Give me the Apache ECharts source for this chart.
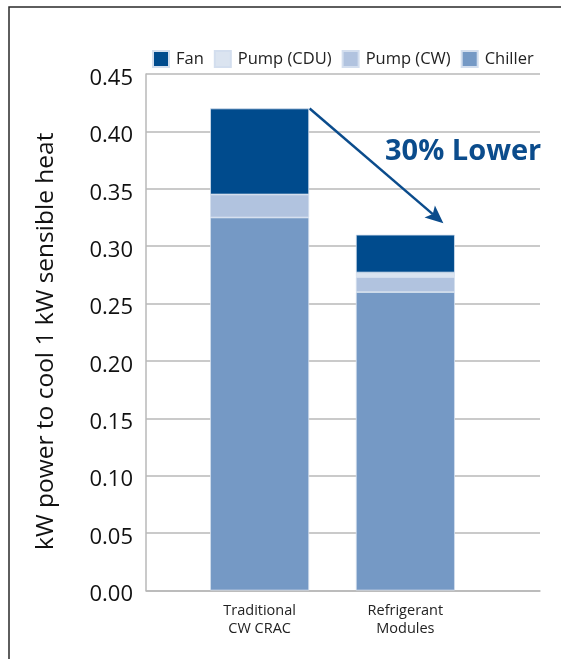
<!DOCTYPE html>
<html><head><meta charset="utf-8">
<script src="https://cdn.jsdelivr.net/npm/echarts@6/dist/echarts.min.js"></script>
<style>html,body{margin:0;padding:0;background:#fff}#c{width:561px;height:659px}</style>
</head><body><div id="c"></div>
<script>
const categories = ['Traditional\nCW CRAC', 'Refrigerant\nModules'];
const seriesNames = ['Fan', 'Pump (CDU)', 'Pump (CW)', 'Chiller'];
const chiller = [0.325, 0.260];
const pumpCW = [0.020, 0.013];
const pumpCDU = [0.000, 0.004];
const fan = [0.075, 0.033];
const yTicks = [0, 0.05, 0.10, 0.15, 0.20, 0.25, 0.30, 0.35, 0.40, 0.45];
const annotationText = '30% Lower';
const arrowFrom = [0, 0.42];
const arrowTo = [1, 0.32];

const colors = {Fan:'#004b8d','Pump (CDU)':'#dbe4f0','Pump (CW)':'#b1c3df',Chiller:'#7599c5'};
const FONT = 'Open Sans';
const chart = echarts.init(document.getElementById('c'), null, {renderer:'canvas'});
function bar(name, data){
  return {name, type:'bar', stack:'t', xAxisIndex:0, yAxisIndex:0, data, barWidth:99,
    itemStyle:{color:colors[name], borderColor:'#d3deee', borderWidth:0.8}, emphasis:{disabled:true}};
}
const option = {
  animation:false,
  textStyle:{fontFamily:FONT},
  legend:{data:seriesNames, top:45, left:147, itemWidth:16, itemHeight:16, itemGap:10, icon:'rect',
    textStyle:{fontFamily:FONT, fontSize:16.5, color:'#222', padding:[0,0,0,2]}},
  grid:[
    {left:186.75, right:82.75, top:74, bottom:68.5},
    {left:146, right:21, top:74, bottom:68.5}
  ],
  xAxis:[
    {type:'category', gridIndex:0, data:categories, axisLine:{show:false}, axisTick:{show:false},
      axisLabel:{fontFamily:FONT, fontSize:14.5, lineHeight:18, color:'#222', margin:11}},
    {type:'category', gridIndex:1, data:[''], axisLine:{show:true, lineStyle:{color:'#b8b8b8', width:1.5}},
      axisTick:{show:false}, axisLabel:{show:false}}
  ],
  yAxis:[
    {type:'value', gridIndex:0, min:0, max:0.45, interval:0.05, show:false, splitLine:{show:false}},
    {type:'value', gridIndex:1, min:0, max:0.45, interval:0.05,
      name:'kW power to cool 1 kW sensible heat', nameLocation:'middle', nameGap:87,
      nameTextStyle:{fontFamily:FONT, fontSize:24.5, color:'#111', padding:[0,18,0,0]},
      axisLine:{show:true, lineStyle:{color:'#b8b8b8', width:1.5}}, axisTick:{show:false},
      axisLabel:{fontFamily:FONT, fontSize:22, color:'#111', margin:13, formatter:v=>'{v|'+v.toFixed(2)+'}',
        rich:{v:{fontFamily:FONT, fontSize:22, color:'#111', padding:[9,0,0,0]}}},
      splitLine:{show:true, lineStyle:{color:'#b8b8b8', width:1.5}}}
  ],
  series:[bar('Chiller', chiller), bar('Pump (CW)', pumpCW), bar('Pump (CDU)', pumpCDU), bar('Fan', fan)]
};
chart.setOption(option);

const p0 = chart.convertToPixel({xAxisIndex:0, yAxisIndex:0}, arrowFrom);
const p1 = chart.convertToPixel({xAxisIndex:0, yAxisIndex:0}, arrowTo);
const start = [p0[0] + 50, p0[1]];
const tip = [p1[0] + 38, p1[1]];
const ang = Math.atan2(tip[1]-start[1], tip[0]-start[0]);
const hl = 18, hw = 8;
const base = [tip[0]-hl*Math.cos(ang), tip[1]-hl*Math.sin(ang)];
const nx = -Math.sin(ang), ny = Math.cos(ang);
chart.setOption({graphic:[
  {type:'rect', shape:{x:9, y:7, width:700, height:800}, style:{fill:'none', stroke:'#2a2a2a', lineWidth:1.5}, silent:true},
  {type:'line', shape:{x1:start[0], y1:start[1], x2:base[0]+4*Math.cos(ang), y2:base[1]+4*Math.sin(ang)}, style:{stroke:'#0b4c8c', lineWidth:2.5}},
  {type:'polygon', shape:{points:[tip, [base[0]+nx*hw, base[1]+ny*hw], [base[0]+4*Math.cos(ang), base[1]+4*Math.sin(ang)], [base[0]-nx*hw, base[1]-ny*hw]]}, style:{fill:'#0b4c8c'}},
  {type:'text', left:385, top:137, style:{text:annotationText, font:'bold 29px "Open Sans"', fill:'#0b4c8c'}}
]});
</script></body></html>
